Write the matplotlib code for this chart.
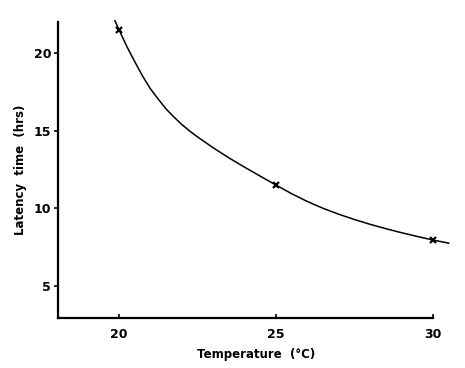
import matplotlib
matplotlib.use("Agg")
import matplotlib.pyplot as plt

# measured points
temps = [20, 25, 30]
latency = [21.5, 11.5, 7.95]

# hand-drawn curve
curve_t = [19.87, 20.0, 20.25, 20.5, 20.75, 21.0, 21.25, 21.5, 21.75, 22.0,
           22.25, 22.5, 23.0, 23.5, 24.0, 24.5, 25.0, 25.5, 26.0, 26.5,
           27.0, 27.5, 28.0, 28.5, 29.0, 29.5, 30.0, 30.5]
curve_l = [22.08, 21.5, 20.42, 19.45, 18.52, 17.7, 17.03, 16.4, 15.88, 15.4,
           14.98, 14.6, 13.9, 13.25, 12.65, 12.07, 11.5, 10.94, 10.44, 10.0,
           9.62, 9.28, 8.97, 8.69, 8.43, 8.19, 7.96, 7.76]

xticks = [20, 25, 30]
yticks = [5, 10, 15, 20]

plt.rcParams["font.family"] = ["DejaVu Sans"]

fig = plt.figure(figsize=(4.65, 3.68), dpi=100)
ax = fig.add_axes([58 / 465, 50 / 368, 397 / 465, 296 / 368])

ax.plot(curve_t, curve_l, "-", color="black", lw=1.1, clip_on=False,
        solid_joinstyle="round")
ax.plot(temps, latency, "x", color="black", ms=4, mew=1.6, clip_on=False)

ax.set_xlim(18.057, 30.70)
ax.set_ylim(2.94, 22.0)

for s in ["top", "right"]:
    ax.spines[s].set_visible(False)
ax.spines["bottom"].set_bounds(18.057, 30)
ax.spines["left"].set_linewidth(1.6)
ax.spines["bottom"].set_linewidth(1.6)

ax.set_xticks(xticks)
ax.set_yticks(yticks)
ax.tick_params(axis="x", direction="in", length=3, width=1.2, pad=7, labelsize=9)
ax.tick_params(axis="y", direction="out", length=3, width=1.2, pad=2, labelsize=9)
for lab in ax.get_xticklabels() + ax.get_yticklabels():
    lab.set_fontweight("bold")

ax.set_xlabel("Temperature  (°C)", fontsize=8.5, fontweight="bold", labelpad=5)
ax.set_ylabel("Latency  time  (hrs)", fontsize=8.5, fontweight="bold", labelpad=5)

fig.savefig("out.png", dpi=100)
